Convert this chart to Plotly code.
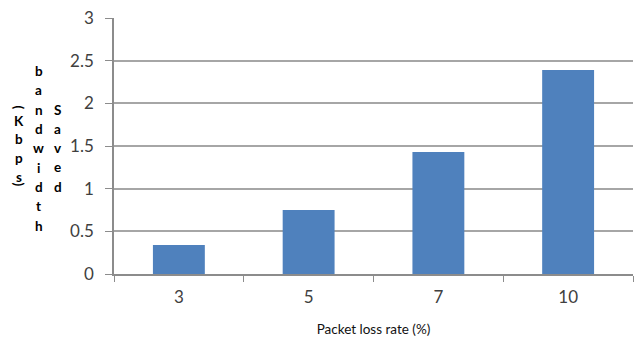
import plotly.graph_objects as go

# Packet loss rate categories and the bandwidth saved at each
loss_rates = ["3", "5", "7", "10"]
saved_kbps = [0.34, 0.75, 1.43, 2.39]

W, H = 640, 342
L, R, T, B = 114, 7, 14, 68
plot_w = W - L - R
plot_h = H - T - B

BAR = "#4F81BD"
GRID = "#A6A6A6"
AXIS = "#8C8C8C"
TICK_FONT = dict(family="Lato", size=17, color="#404040")

fig = go.Figure(
    go.Bar(
        x=loss_rates,
        y=saved_kbps,
        marker=dict(color=BAR, line=dict(width=0)),
        hoverinfo="x+y",
    )
)


def px_to_paper(px, py):
    return (px - L) / plot_w, (H - B - py) / plot_h


# Vertical, column-stacked axis title: "Saved bandwidth (Kbps)"
title_cols = [
    # (x centre, characters, y centres)
    (57.5, "Saved", [107.0, 126.6, 146.2, 165.8, 185.4]),
    (38.5, "bandwidth", [68.0, 87.6, 107.2, 126.8, 146.4, 166.0, 185.6, 205.2, 224.8]),
    (19.0, "(Kbps)", [105.0, 118.5, 137.0, 156.0, 175.0, 183.0]),
]
annotations = []
for cx, chars, ys in title_cols:
    for ch, cy in zip(chars, ys):
        ax, ay = px_to_paper(cx, cy)
        annotations.append(
            dict(
                text=f"<b>{ch}</b>",
                x=ax,
                y=ay,
                xref="paper",
                yref="paper",
                xanchor="center",
                yanchor="middle",
                showarrow=False,
                textangle=90 if ch in "()" else 0,
                font=dict(family="Lato", size=13.5, color="#000000"),
            )
        )

fig.update_layout(
    width=W,
    height=H,
    margin=dict(l=L, r=R, t=T, b=B, pad=0),
    paper_bgcolor="white",
    plot_bgcolor="white",
    bargap=0.6,
    showlegend=False,
    annotations=annotations,
    xaxis=dict(
        type="category",
        tickson="boundaries",
        ticks="outside",
        ticklen=6,
        tickcolor=AXIS,
        showline=True,
        linecolor=AXIS,
        linewidth=1.5,
        showgrid=False,
        tickfont=TICK_FONT,
        ticklabelstandoff=7,
        title=dict(
            text="Packet loss rate (%)",
            font=dict(family="Lato", size=13.5, color="#111111"),
            standoff=18,
        ),
    ),
    yaxis=dict(
        range=[0, 3],
        dtick=0.5,
        tickformat="~g",
        ticks="outside",
        ticklen=7,
        tickcolor=AXIS,
        showline=True,
        linecolor=AXIS,
        linewidth=1.5,
        showgrid=True,
        gridcolor=GRID,
        gridwidth=1.5,
        zeroline=False,
        tickfont=TICK_FONT,
        ticklabelstandoff=8,
    ),
)

fig.write_html("out.html")
